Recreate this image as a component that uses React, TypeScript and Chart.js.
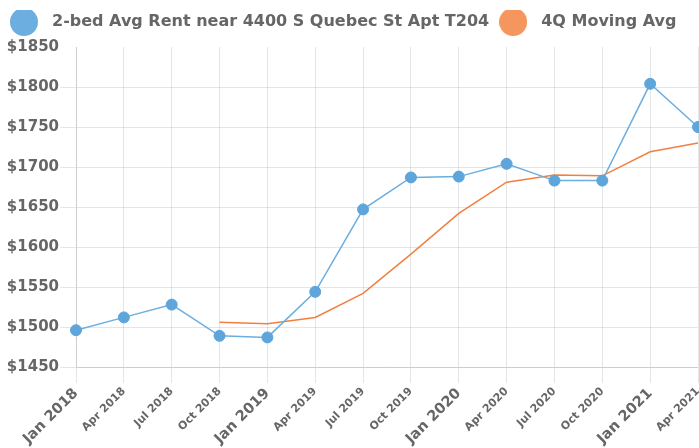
import React, { useEffect, useRef } from 'react';
import { Chart, registerables } from 'chart.js';

Chart.register(...registerables);

// ---- Data ----
const quarters = [
  'Jan 2018', 'Apr 2018', 'Jul 2018', 'Oct 2018',
  'Jan 2019', 'Apr 2019', 'Jul 2019', 'Oct 2019',
  'Jan 2020', 'Apr 2020', 'Jul 2020', 'Oct 2020',
  'Jan 2021', 'Apr 2021',
];
const avgRent = [1496, 1512, 1528, 1489, 1487, 1544, 1647, 1687, 1688, 1704, 1683, 1683, 1804, 1750];
const movingAvg = [null, null, null, 1506, 1504, 1512, 1542, 1591, 1642, 1681, 1690, 1689, 1719, 1730];
const seriesLabels = ['2-bed Avg Rent near 4400 S Quebec St Apt T204', '4Q Moving Avg'];
const yMin = 1450;
const yMax = 1850;
const yStep = 50;

// ---- Styles ----
const BLUE = '#5DA5DA';
const BLUE_LINE = '#6BAEE0';
const ORANGE = '#F27F3F';
const LEGEND_COLORS = ['#6CAEE0', '#F4965E'];
const TEXT = '#666666';
const GRID = 'rgba(0,0,0,0.1)';
const FONT = "'DejaVu Sans', sans-serif";
const LEGEND_GAP = 7;

function makeDot(color: string, r: number): HTMLCanvasElement {
  const c = document.createElement('canvas');
  c.width = r * 2;
  c.height = r * 2;
  const g = c.getContext('2d')!;
  g.fillStyle = color;
  g.beginPath();
  g.arc(r, r, r, 0, Math.PI * 2);
  g.fill();
  return c;
}

const legendGap = {
  id: 'legendGap',
  beforeLayout(chart: any) {
    const legend = chart.legend;
    if (legend && !legend._gapPatched) {
      const fit = legend.fit;
      legend.fit = function () {
        fit.call(this);
        this.height += LEGEND_GAP;
      };
      legend._gapPatched = true;
    }
  },
};

export default function App() {
  const ref = useRef<HTMLCanvasElement | null>(null);

  useEffect(() => {
    if (!ref.current) return;
    const dots = LEGEND_COLORS.map((c) => makeDot(c, 14));
    const chart = new Chart(ref.current, {
      type: 'line',
      data: {
        labels: quarters,
        datasets: [
          {
            label: seriesLabels[0],
            data: avgRent,
            borderColor: BLUE_LINE,
            backgroundColor: BLUE,
            pointBackgroundColor: BLUE,
            pointBorderColor: BLUE,
            pointRadius: 5.5,
            pointBorderWidth: 1,
            borderWidth: 1.5,
            tension: 0,
            fill: false,
            clip: false as any,
          },
          {
            label: seriesLabels[1],
            data: movingAvg as any,
            borderColor: ORANGE,
            backgroundColor: ORANGE,
            pointRadius: 0,
            borderWidth: 1.5,
            tension: 0,
            fill: false,
            spanGaps: false,
            clip: false as any,
          },
        ],
      },
      options: {
        animation: false,
        responsive: true,
        maintainAspectRatio: false,
        layout: { autoPadding: false, padding: { top: 10, left: 0, right: 1, bottom: 0 } },
        plugins: {
          tooltip: { enabled: false },
          legend: {
            position: 'top',
            align: 'start',
            labels: {
              usePointStyle: true,
              pointStyleWidth: 40,
              padding: 4,
              color: TEXT,
              font: { family: FONT, size: 16, weight: 'bold' },
              generateLabels: (ch: any) =>
                ch.data.datasets.map((ds: any, i: number) => ({
                  text: ds.label,
                  fillStyle: LEGEND_COLORS[i],
                  strokeStyle: LEGEND_COLORS[i],
                  lineWidth: 0,
                  pointStyle: dots[i],
                  hidden: false,
                  datasetIndex: i,
                  fontColor: TEXT,
                })),
            },
          },
        },
        scales: {
          x: {
            grid: { color: GRID, tickLength: 16, drawTicks: true },
            border: { color: GRID },
            afterFit: (scale: any) => {
              scale.paddingRight = 0;
              scale.height = 81;
            },
            ticks: {
              autoSkip: false,
              minRotation: 45,
              maxRotation: 45,
              padding: 2,
              color: TEXT,
              font: (ctx: any) =>
                quarters[ctx.index] && quarters[ctx.index].startsWith('Jan')
                  ? { family: FONT, size: 14.5, weight: 'bold' }
                  : { family: FONT, size: 11, weight: 'bold' },
            },
          },
          y: {
            min: yMin,
            max: yMax,
            grid: {
              tickLength: 16,
              color: (ctx: any) => (ctx.tick && ctx.tick.value === yMax ? 'rgba(0,0,0,0)' : GRID),
            },
            border: { color: GRID },
            afterFit: (scale: any) => {
              scale.width = 76;
            },
            ticks: {
              stepSize: yStep,
              padding: 1,
              color: TEXT,
              font: { family: FONT, size: 15, weight: 'bold' },
              callback: (v: any) => '$' + v,
            },
          },
        },
      },
      plugins: [legendGap],
    } as any);
    return () => chart.destroy();
  }, []);

  return (
    <div style={{ position: 'absolute', left: 0, top: 0, width: 699, height: 448 }}>
      <canvas ref={ref} />
    </div>
  );
}
